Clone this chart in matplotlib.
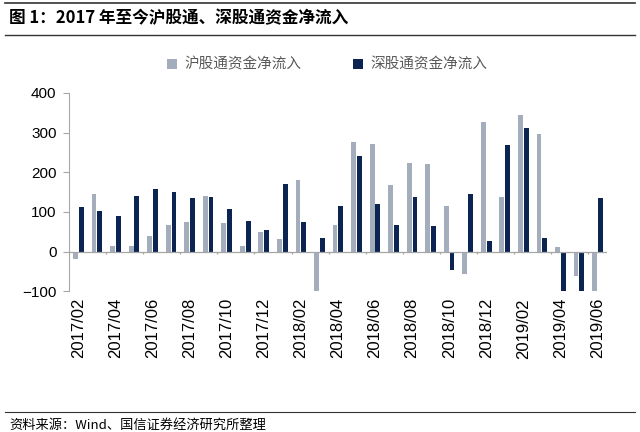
import matplotlib.pyplot as plt
import numpy as np

plt.rcParams['font.family'] = ['Liberation Sans', 'Noto Sans CJK SC', 'DejaVu Sans']

# 月份(2017/02 - 2019/06)
months = ['2017/02', '2017/03', '2017/04', '2017/05', '2017/06', '2017/07', '2017/08',
          '2017/09', '2017/10', '2017/11', '2017/12', '2018/01', '2018/02', '2018/03',
          '2018/04', '2018/05', '2018/06', '2018/07', '2018/08', '2018/09', '2018/10',
          '2018/11', '2018/12', '2019/01', '2019/02', '2019/03', '2019/04', '2019/05',
          '2019/06']
# 沪股通资金净流入(亿元)
sh_flow = [-18, 146, 13, 13, 38, 66, 75, 139, 73, 14, 50, 32, 181, -99, 66,
           276, 270, 167, 224, 221, 114, -56, 327, 137, 343, 297, 11, -61, -120]
# 深股通资金净流入(亿元)
sz_flow = [113, 101, 90, 141, 158, 151, 134, 137, 106, 77, 55, 171, 74, 34, 114,
           242, 120, 66, 138, 64, -47, 145, 27, 268, 312, 34, -130, -125, 136]

c_sh = '#a3adbb'
c_sz = '#0c2452'
grey = '#a6a6a6'

fig = plt.figure(figsize=(6.4, 4.32), dpi=100)
ax = fig.add_axes([0.108, 0.326, 0.84, 0.459])

x = np.arange(len(months))
w = 0.26
ax.bar(x - 0.155, sh_flow, width=w, color=c_sh, label='沪股通资金净流入')
ax.bar(x + 0.155, sz_flow, width=w, color=c_sz, label='深股通资金净流入')

ax.set_ylim(-100, 400)
ax.set_xlim(-0.5, len(months) - 0.5)
ax.set_yticks(np.arange(-100, 401, 100))
ax.tick_params(axis='y', length=4, color=grey, labelsize=11, pad=5)

# 零轴 + 每两个月一个刻度
ax.axhline(0, color=grey, lw=0.9)
ax.vlines(np.arange(1.5, len(months) - 1, 2), -6, 0, color=grey, lw=0.9)

ax.set_xticks(x[::2])
ax.set_xticklabels(months[::2], rotation=90, fontsize=12)
ax.tick_params(axis='x', length=0, pad=5)

for s in ['top', 'right', 'bottom']:
    ax.spines[s].set_visible(False)
ax.spines['left'].set_color(grey)

ax.legend(loc='lower center', bbox_to_anchor=(0.48, 1.04), ncol=2, frameon=False,
          handlelength=0.7, handleheight=0.7, columnspacing=3.5,
          handletextpad=0.5, prop={'family': ['Noto Sans CJK SC'], 'size': 10.5})
for t in ax.get_legend().get_texts():
    t.set_color('#595959')

# 标题与来源
fig.add_artist(plt.Line2D([0.008, 0.992], [0.994, 0.994], color='#333333', lw=1.2))
fig.add_artist(plt.Line2D([0.008, 0.992], [0.92, 0.92], color='#333333', lw=1.0))
fig.text(0.014, 0.958, '图 1：2017 年至今沪股通、深股通资金净流入', fontsize=12,
         fontweight='bold', va='center', family=['Noto Sans CJK SC'])
fig.add_artist(plt.Line2D([0.008, 0.992], [0.046, 0.046], color='#333333', lw=0.8))
fig.text(0.014, 0.016, '资料来源：Wind、国信证券经济研究所整理', fontsize=9.5,
         va='center', family=['Noto Sans CJK SC'])

fig.savefig('out.png', dpi=100)
